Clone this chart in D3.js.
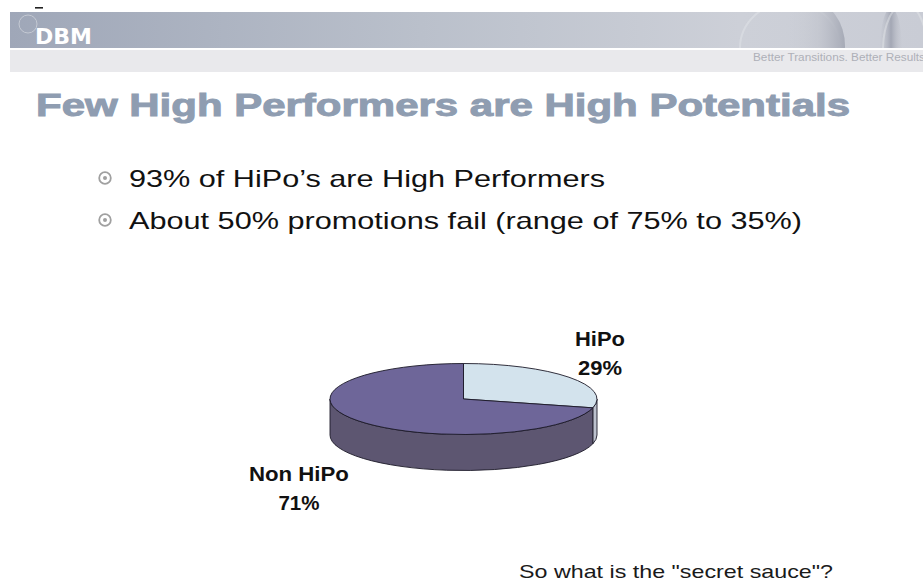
<!DOCTYPE html>
<html>
<head>
<meta charset="utf-8">
<script src="https://cdn.jsdelivr.net/npm/d3@7"></script>
<style>
  html, body { margin: 0; padding: 0; background: #fff; }
  svg { display: block; }
</style>
</head>
<body>
<svg id="slide" width="923" height="582"></svg>
<script>
// ---- slide content ----
const brand = "DBM";
const tagline = "Better Transitions. Better Results";
const title = "Few High Performers are High Potentials";
const bullets = [
  "93% of HiPo\u2019s are High Performers",
  "About 50% promotions fail (range of 75% to 35%)"
];
const categories = ["HiPo", "Non HiPo"];
const shares = [29, 71];
const question = "So what is the \"secret sauce\"?";

// ---- layout ----
const W = 923, H = 582;
const svg = d3.select("#slide");
svg.append("rect").attr("width", W).attr("height", H).attr("fill", "#fff");
const defs = svg.append("defs");

// header band
const band = defs.append("linearGradient").attr("id", "bandGrad");
[[0, "#9fa7b8"], [0.45, "#bac0cb"], [0.8, "#cdd0d8"], [1, "#c9ccd5"]].forEach(([o, c]) =>
  band.append("stop").attr("offset", o).attr("stop-color", c));
defs.append("clipPath").attr("id", "bandClip")
  .append("rect").attr("x", 10).attr("y", 12).attr("width", W - 10).attr("height", 36);

const header = svg.append("g");
header.append("rect").attr("x", 10).attr("y", 12).attr("width", W - 10).attr("height", 36)
  .attr("fill", "url(#bandGrad)");
header.append("rect").attr("x", 10).attr("y", 50).attr("width", W - 10).attr("height", 22)
  .attr("fill", "#e9e9ec");

// decorative swooshes on the right of the band
const deco = header.append("g").attr("clip-path", "url(#bandClip)");
const shade = defs.append("linearGradient").attr("id", "shadeGrad");
[[0, "#cfd2d9", 0], [0.6, "#c0c3cc", 0.6], [1, "#a6aab6", 1]].forEach(([o, c, a]) =>
  shade.append("stop").attr("offset", o).attr("stop-color", c).attr("stop-opacity", a));
const lens = defs.append("linearGradient").attr("id", "lensGrad");
[[0, "#c4c7d0", 0.2], [0.5, "#a3a7b4", 1], [1, "#c4c7d0", 0.2]].forEach(([o, c, a]) =>
  lens.append("stop").attr("offset", o).attr("stop-color", c).attr("stop-opacity", a));
deco.append("ellipse").attr("cx", 790).attr("cy", 48).attr("rx", 50).attr("ry", 46)
  .attr("fill", "none").attr("stroke", "#e4e6ea").attr("stroke-opacity", 0.45).attr("stroke-width", 2);
deco.append("ellipse").attr("cx", 812).attr("cy", 46).attr("rx", 33).attr("ry", 44)
  .attr("fill", "url(#shadeGrad)");
deco.append("ellipse").attr("cx", 891).attr("cy", 50).attr("rx", 11).attr("ry", 42)
  .attr("fill", "url(#lensGrad)");
deco.append("ellipse").attr("cx", 905).attr("cy", 50).attr("rx", 22).attr("ry", 46)
  .attr("fill", "none").attr("stroke", "#e6e8ec").attr("stroke-opacity", 0.45).attr("stroke-width", 2);

// small logo ring and brand
header.append("circle").attr("cx", 28).attr("cy", 24).attr("r", 9)
  .attr("fill", "none").attr("stroke", "#c4c9d3").attr("stroke-width", 1);
header.append("rect").attr("x", 35).attr("y", 7).attr("width", 8).attr("height", 1.6).attr("fill", "#222");
header.append("text").text(brand)
  .attr("x", 35).attr("y", 43.5)
  .attr("font-family", "'DejaVu Sans', sans-serif").attr("font-weight", "bold")
  .attr("font-size", 21).attr("fill", "#fff")
  .attr("textLength", 57).attr("lengthAdjust", "spacingAndGlyphs");
header.append("text").text(tagline)
  .attr("x", 753).attr("y", 61)
  .attr("font-family", "'Liberation Sans', Arial, sans-serif")
  .attr("font-size", 10).attr("fill", "#aeb0b8")
  .attr("textLength", 172).attr("lengthAdjust", "spacingAndGlyphs");

// title
svg.append("text").text(title)
  .attr("x", 36).attr("y", 116)
  .attr("font-family", "'Liberation Sans', Arial, sans-serif").attr("font-weight", "bold")
  .attr("font-size", 32).attr("fill", "#8f9db1")
  .attr("stroke", "#8f9db1").attr("stroke-width", 1)
  .attr("textLength", 814).attr("lengthAdjust", "spacingAndGlyphs");

// bullet list
const bulletTextX = 129, bulletWidths = [476, 673];
const rows = svg.append("g").selectAll("g").data(bullets).join("g")
  .attr("transform", (d, i) => `translate(0, ${187 + i * 42})`);
rows.append("circle").attr("cx", 105).attr("cy", -9).attr("r", 5.8)
  .attr("fill", "none").attr("stroke", "#a0a0a0").attr("stroke-width", 1.8);
rows.append("circle").attr("cx", 105).attr("cy", -9).attr("r", 2).attr("fill", "#a0a0a0");
rows.append("text").text(d => d)
  .attr("x", bulletTextX).attr("y", 0)
  .attr("font-family", "'Liberation Sans', Arial, sans-serif")
  .attr("font-size", 24).attr("fill", "#111")
  .attr("textLength", (d, i) => bulletWidths[i]).attr("lengthAdjust", "spacingAndGlyphs");

// ---- 3D pie ----
const cx = 463.5, cy = 399, rx = 133.5, ry = 35.5, depth = 36;
const topColor = d3.scaleOrdinal().domain(categories).range(["#d3e3ed", "#6e6699"]);
const sideColor = d3.scaleOrdinal().domain(categories).range(["#bcc1cd", "#5d5671"]);
const arcs = d3.pie().sort(null).value(d => d)(shares)
  .map((a, i) => ({ ...a, name: categories[i] }));

const P = (a, dy = 0) => [cx + rx * Math.sin(a), cy - ry * Math.cos(a) + dy];
const arcTo = (a0, a1, dy, sweep) => {
  const [x, y] = P(a1, dy);
  const large = Math.abs(a1 - a0) > Math.PI ? 1 : 0;
  return `A${rx},${ry} 0 ${large} ${sweep} ${x},${y}`;
};
const topPath = d => {
  const [x0, y0] = P(d.startAngle);
  return `M${cx},${cy}L${x0},${y0}` + arcTo(d.startAngle, d.endAngle, 0, 1) + "Z";
};
// the front wall runs from the rightmost point (π/2) to the leftmost (3π/2)
const sidePath = d => {
  const s = Math.max(d.startAngle, Math.PI / 2), e = Math.min(d.endAngle, 3 * Math.PI / 2);
  if (e <= s) return null;
  const [x0, y0] = P(s), [x1, y1] = P(e, depth);
  return `M${x0},${y0}` + arcTo(s, e, 0, 1) + `L${x1},${y1}` + arcTo(e, s, depth, 0) + "Z";
};

const pieG = svg.append("g");
pieG.selectAll("path.side").data(arcs.filter(sidePath)).join("path")
  .attr("class", "side").attr("d", sidePath)
  .attr("fill", d => sideColor(d.name))
  .attr("stroke", "#1c1a28").attr("stroke-width", 0.9).attr("stroke-linejoin", "round");
pieG.selectAll("path.top").data(arcs).join("path")
  .attr("class", "top").attr("d", topPath)
  .attr("fill", d => topColor(d.name))
  .attr("stroke", "#1c1a28").attr("stroke-width", 0.9).attr("stroke-linejoin", "round");

// slice labels: behind-rim labels sit just past the right rim, front-rim labels drop below the wall
const labelW = { name: [50, 100], pct: [44, 41] };
const labels = svg.append("g").selectAll("g").data(arcs).join("g")
  .attr("transform", d => {
    const mid = (d.startAngle + d.endAngle) / 2;
    const front = Math.cos(mid) < 0;
    const ky = front ? 2.43 : 2.1;
    const x = front ? cx + rx * 1.56 * Math.sin(mid) : cx + rx + 3;
    const y = cy - ry * ky * Math.cos(mid) + (front ? depth : 0);
    return `translate(${x},${y})`;
  });
labels.append("text").text(d => d.name)
  .attr("y", -7).attr("text-anchor", "middle")
  .attr("font-family", "'Liberation Sans', Arial, sans-serif").attr("font-weight", "bold")
  .attr("font-size", 21).attr("fill", "#111")
  .attr("textLength", d => labelW.name[d.index]).attr("lengthAdjust", "spacingAndGlyphs");
labels.append("text").text(d => d.data + "%")
  .attr("y", 22).attr("text-anchor", "middle")
  .attr("font-family", "'Liberation Sans', Arial, sans-serif").attr("font-weight", "bold")
  .attr("font-size", 21).attr("fill", "#111")
  .attr("textLength", d => labelW.pct[d.index]).attr("lengthAdjust", "spacingAndGlyphs");

// closing question
svg.append("text").text(question)
  .attr("x", 519).attr("y", 578)
  .attr("font-family", "'Liberation Sans', Arial, sans-serif")
  .attr("font-size", 19).attr("fill", "#1a1a1a")
  .attr("textLength", 314).attr("lengthAdjust", "spacingAndGlyphs");
</script>
</body>
</html>
